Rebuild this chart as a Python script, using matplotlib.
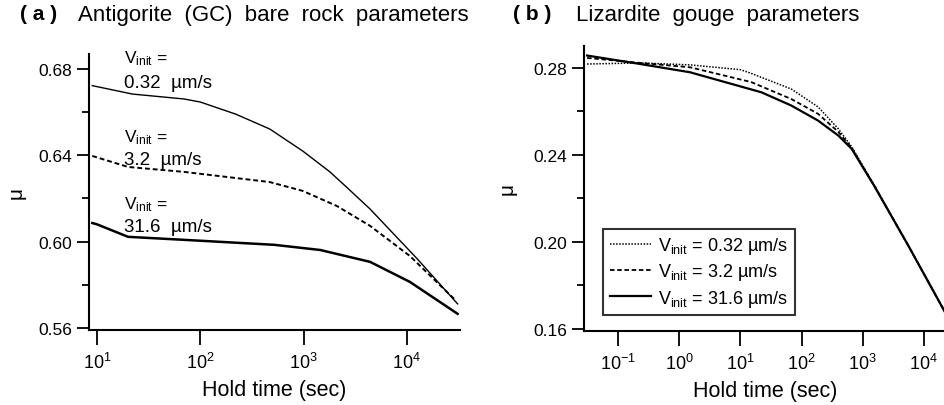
import numpy as np
import matplotlib
matplotlib.use("Agg")
from matplotlib import pyplot as plt
from matplotlib import ticker

plt.rcParams['font.family'] = ['Liberation Sans', 'DejaVu Sans']
plt.rcParams['mathtext.fontset'] = 'custom'
plt.rcParams['mathtext.rm'] = 'Liberation Sans'
plt.rcParams['mathtext.it'] = 'Liberation Sans'
plt.rcParams['mathtext.default'] = 'regular'

# (a) Antigorite (GC) bare rock parameters
a_t_032 = [9, 22, 70, 100, 220, 470, 980, 1800, 2600, 4400, 12600, 31000]
a_mu_032 = [0.6723, 0.6684, 0.6661, 0.6647, 0.6591, 0.6522, 0.6420, 0.6323, 0.6253, 0.6151, 0.5920, 0.5711]
a_t_32 = [9, 20, 70, 470, 980, 2100, 4400, 10700, 30000]
a_mu_32 = [0.6397, 0.6346, 0.6323, 0.6276, 0.6235, 0.6165, 0.6073, 0.5933, 0.5725]
a_t_316 = [9, 10, 20, 70, 520, 1450, 4400, 10700, 31000]
a_mu_316 = [0.6086, 0.6080, 0.6022, 0.6008, 0.5985, 0.5961, 0.5906, 0.5813, 0.5665]

# (b) Lizardite gouge parameters
b_t_032 = [0.031, 0.23, 1.5, 10, 15, 68, 186, 400, 660, 1550, 5600, 24000, 30000]
b_mu_032 = [0.2818, 0.2823, 0.2814, 0.2792, 0.2775, 0.2703, 0.2621, 0.2520, 0.2438, 0.2260, 0.1982, 0.1660, 0.1610]
b_t_32 = [0.031, 0.23, 1.5, 15, 68, 186, 400, 660, 1550, 5600, 24000, 30000]
b_mu_32 = [0.2846, 0.2823, 0.2803, 0.2735, 0.2657, 0.2589, 0.2506, 0.2432, 0.2258, 0.1982, 0.1660, 0.1610]
b_t_316 = [0.031, 0.23, 1.5, 22, 68, 186, 400, 660, 1550, 5600, 24000, 30000]
b_mu_316 = [0.2857, 0.2818, 0.2780, 0.2688, 0.2627, 0.2558, 0.2489, 0.2428, 0.2257, 0.1982, 0.1660, 0.1610]

a_labels = ['0.32', '3.2', '31.6']
a_yticks = [0.56, 0.60, 0.64, 0.68]
b_yticks = [0.16, 0.20, 0.24, 0.28]

fig = plt.figure(figsize=(9.45, 4.06), dpi=100)
axa = fig.add_axes([0.0942, 0.1847, 0.3926, 0.680])
axb = fig.add_axes([0.618, 0.1823, 0.384, 0.702])

def style(ax, yticks, minors, ylpad):
    ax.set_xscale('log')
    for s in ['top', 'right']:
        ax.spines[s].set_visible(False)
    for s in ['left', 'bottom']:
        ax.spines[s].set_linewidth(1.5)
    ax.set_yticks(yticks)
    ax.yaxis.set_major_formatter(ticker.FormatStrFormatter('%.2f'))
    ax.set_yticks(minors, minor=True)
    ax.xaxis.set_minor_locator(ticker.NullLocator())
    ax.xaxis.set_major_locator(ticker.LogLocator(base=10, numticks=12))
    ax.tick_params(axis='y', which='major', direction='out', length=9, width=1.3,
                   labelsize=12.5, pad=3)
    ax.tick_params(axis='y', which='minor', direction='out', length=5, width=1.3)
    ax.tick_params(axis='x', which='major', direction='out', length=11, width=1.3,
                   labelsize=13, pad=5)
    ax.set_xlabel('Hold time (sec)', fontsize=15.5, labelpad=5)
    ax.set_ylabel('μ', fontsize=15, labelpad=ylpad)

# panel a
axa.plot(a_t_032, a_mu_032, color='black', lw=1.0)
axa.plot(a_t_32, a_mu_32, color='black', lw=1.4, ls=(0, (2.5, 1.5)))
axa.plot(a_t_316, a_mu_316, color='black', lw=1.8)
axa.set_xlim(8.37, 32700)
axa.set_ylim(0.559, 0.687)
style(axa, a_yticks, [0.58, 0.62, 0.66], 9)

for txt, y1, y2 in zip(a_labels, [0.6832, 0.6466, 0.6156], [0.6717, 0.6360, 0.6049]):
    axa.text(18.2, y1, r'V$_{init}$ =', fontsize=12.5, va='baseline', ha='left')
    axa.text(18.2, y2, txt + '  µm/s', fontsize=13.5, va='baseline', ha='left')

# panel b
axb.plot(b_t_032, b_mu_032, color='black', lw=1.1, ls=(0, (1, 1)), label=r'V$_{init}$ = 0.32 µm/s')
axb.plot(b_t_32, b_mu_32, color='black', lw=1.3, ls=(0, (2.5, 1.5)), label=r'V$_{init}$ = 3.2 µm/s')
axb.plot(b_t_316, b_mu_316, color='black', lw=1.6, label=r'V$_{init}$ = 31.6 µm/s')
axb.set_xlim(0.0276, 23900)
axb.set_ylim(0.159, 0.2901)
style(axb, b_yticks, [0.18, 0.22, 0.26], 12)
leg = axb.legend(loc='lower left', bbox_to_anchor=(0.053, 0.056), borderaxespad=0,
                 fontsize=13, frameon=True, fancybox=False, handlelength=2.3,
                 handletextpad=0.4, labelspacing=0.3, borderpad=0.35)
leg.get_frame().set_edgecolor('black')
leg.get_frame().set_linewidth(1.5)

# panel titles
fig.text(20 / 945, 1 - 15 / 406, '( a )', fontsize=15, fontweight='bold', va='center')
fig.text(78 / 945, 1 - 15 / 406, 'Antigorite  (GC)  bare  rock  parameters', fontsize=16, va='center')
fig.text(513 / 945, 1 - 15 / 406, '( b )', fontsize=15, fontweight='bold', va='center')
fig.text(576 / 945, 1 - 15 / 406, 'Lizardite  gouge  parameters', fontsize=16, va='center')

fig.savefig('out.png', dpi=100)
